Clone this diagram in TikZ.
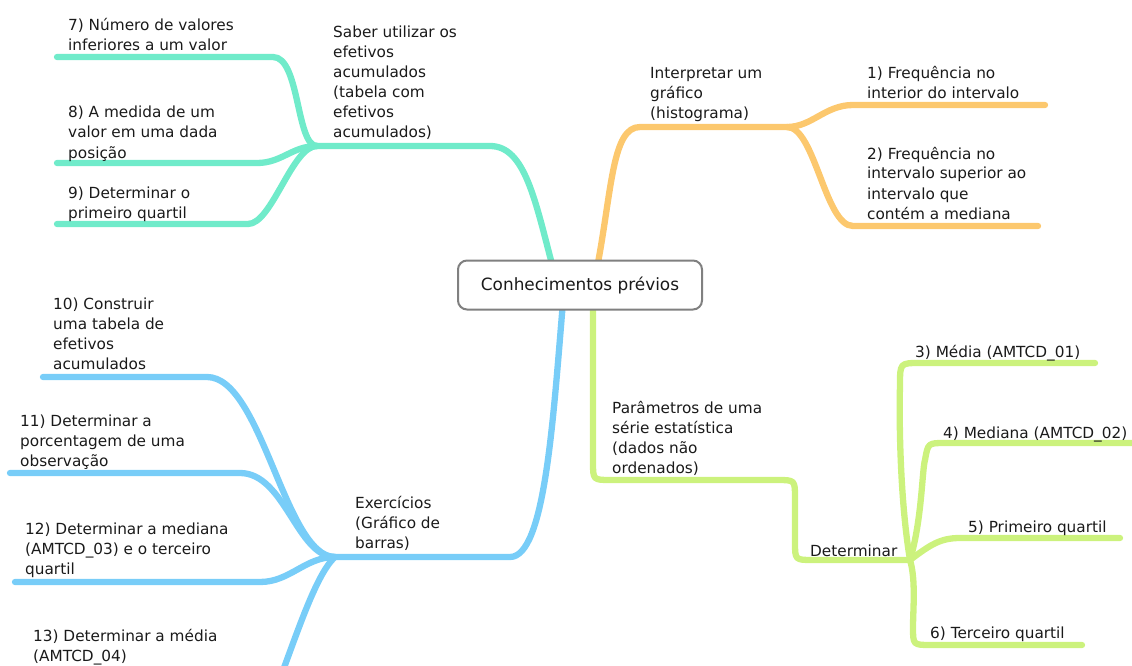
\documentclass[tikz,border=0pt]{standalone}
\usepackage{fontspec}
\setmainfont{DejaVu Sans}
\definecolor{cteal}{RGB}{112,235,202}
\definecolor{corange}{RGB}{252,200,110}
\definecolor{cblue}{RGB}{120,205,248}
\definecolor{clime}{RGB}{204,242,125}
\definecolor{boxgray}{RGB}{128,128,128}
\definecolor{txt}{RGB}{26,26,26}
\newcommand\mlines[1]{\begin{tabular}[t]{@{}l@{}}#1\end{tabular}}
\begin{document}
\begin{tikzpicture}[x=1pt,y=-1pt,
  lbl/.style={anchor=base west, inner sep=0pt, font=\fontsize{15.3}{20}\selectfont, text=txt},
  br/.style={line width=6.3pt, line cap=round, line join=round}]
\useasboundingbox (0,0) rectangle (1132,666);
% junctions and ends
\coordinate (rT) at (553,268);
\coordinate (rO) at (597,268);
\coordinate (rB) at (563,302);
\coordinate (rL) at (593,302);
\coordinate (T) at (317,146);
\coordinate (O) at (787,127);
\coordinate (B) at (335,557);
\coordinate (G) at (910,560);
\coordinate (e7) at (57,57);
\coordinate (e8) at (57,163);
\coordinate (e9) at (57,224);
\coordinate (e1) at (1045,105);
\coordinate (e2) at (1038,226);
\coordinate (e10) at (43,377);
\coordinate (e11) at (10,473);
\coordinate (e12) at (15,582);
\coordinate (e13) at (272,700);
\coordinate (e3) at (1095,363);
\coordinate (e4) at (1145,443);
\coordinate (e5) at (1120,538);
\coordinate (e6) at (1082,645);
\begin{scope}
\clip (0,0) rectangle (1132,666);
% teal
\draw[br,cteal] (rT) .. controls (535,200) and (525,146) .. (490,146) -- (T);
\draw[br,cteal] (T) .. controls (296,146) and (300,57) .. (273,57) -- (e7);
\draw[br,cteal] (T) .. controls (292,146) and (282,163) .. (257,163) -- (e8);
\draw[br,cteal] (T) .. controls (292,146) and (272,224) .. (248,224) -- (e9);
% orange
\draw[br,corange] (rO) .. controls (612,190) and (612,127) .. (640,127) -- (O);
\draw[br,corange] (O) .. controls (812,127) and (825,105) .. (853,105) -- (e1);
\draw[br,corange] (O) .. controls (815,127) and (825,226) .. (853,226) -- (e2);
% blue
\draw[br,cblue] (rB) .. controls (553,420) and (545,557) .. (510,557) -- (B);
\draw[br,cblue] (B) .. controls (285,557) and (262,377) .. (207,377) -- (e10);
\draw[br,cblue] (B) .. controls (297,557) and (285,473) .. (240,473) -- (e11);
\draw[br,cblue] (B) .. controls (305,557) and (290,582) .. (260,582) -- (e12);
\draw[br,cblue] (B) .. controls (315,575) and (295,640) .. (e13);
% lime
\draw[br,clime] (rL) -- (593,462) .. controls (593,480) .. (611,480) -- (777,480)
  .. controls (795,480) .. (795,498) -- (795,542) .. controls (795,560) .. (813,560) -- (G);
\draw[br,clime] (G) .. controls (900,500) and (899,420) .. (900,385) .. controls (900,363) .. (920,363) -- (e3);
\draw[br,clime] (G) .. controls (922,520) and (922,470) .. (925,460) .. controls (928,443) .. (945,443) -- (e4);
\draw[br,clime] (G) .. controls (930,545) and (940,538) .. (960,538) -- (e5);
\draw[br,clime] (G) .. controls (916,580) and (913,610) .. (913,627) .. controls (913,645) .. (931,645) -- (e6);
\end{scope}
% root
\node[draw=boxgray, line width=2pt, rounded corners=9pt, fill=white,
  minimum width=244pt, minimum height=49pt, text=txt,
  font=\fontsize{16.9}{20}\selectfont] (root) at (580,285) {Conhecimentos prévios};
% labels
\node[lbl] (nT) at (333,38) {\mlines{Saber utilizar os\\efetivos\\acumulados\\(tabela com\\efetivos\\acumulados)}};
\node[lbl] (n7) at (68,31) {\mlines{7) Número de valores\\inferiores a um valor}};
\node[lbl] (n8) at (68,118) {\mlines{8) A medida de um\\valor em uma dada\\posição}};
\node[lbl] (n9) at (68,198) {\mlines{9) Determinar o\\primeiro quartil}};
\node[lbl] (nO) at (650,79) {\mlines{Interpretar um\\gráfico\\(histograma)}};
\node[lbl] (n1) at (867,79) {\mlines{1) Frequência no\\interior do intervalo}};
\node[lbl] (n2) at (867,159) {\mlines{2) Frequência no\\intervalo superior ao\\intervalo que\\contém a mediana}};
\node[lbl] (nB) at (355,508) {\mlines{Exercícios\\(Gráfico de\\barras)}};
\node[lbl] (n10) at (53,309) {\mlines{10) Construir\\uma tabela de\\efetivos\\acumulados}};
\node[lbl] (n11) at (20,426) {\mlines{11) Determinar a\\porcentagem de uma\\observação}};
\node[lbl] (n12) at (25,534) {\mlines{12) Determinar a mediana\\(AMTCD\_03) e o terceiro\\quartil}};
\node[lbl] (n13) at (33,641) {\mlines{13) Determinar a média\\(AMTCD\_04)}};
\node[lbl] (nL) at (612,413) {\mlines{Parâmetros de uma\\série estatística\\(dados não\\ordenados)}};
\node[lbl] (nG) at (810,556) {Determinar};
\node[lbl] (n3) at (915,357) {3) Média (AMTCD\_01)};
\node[lbl] (n4) at (943,438) {4) Mediana (AMTCD\_02)};
\node[lbl] (n5) at (968,532) {5) Primeiro quartil};
\node[lbl] (n6) at (930,638) {6) Terceiro quartil};
\end{tikzpicture}
\end{document}
